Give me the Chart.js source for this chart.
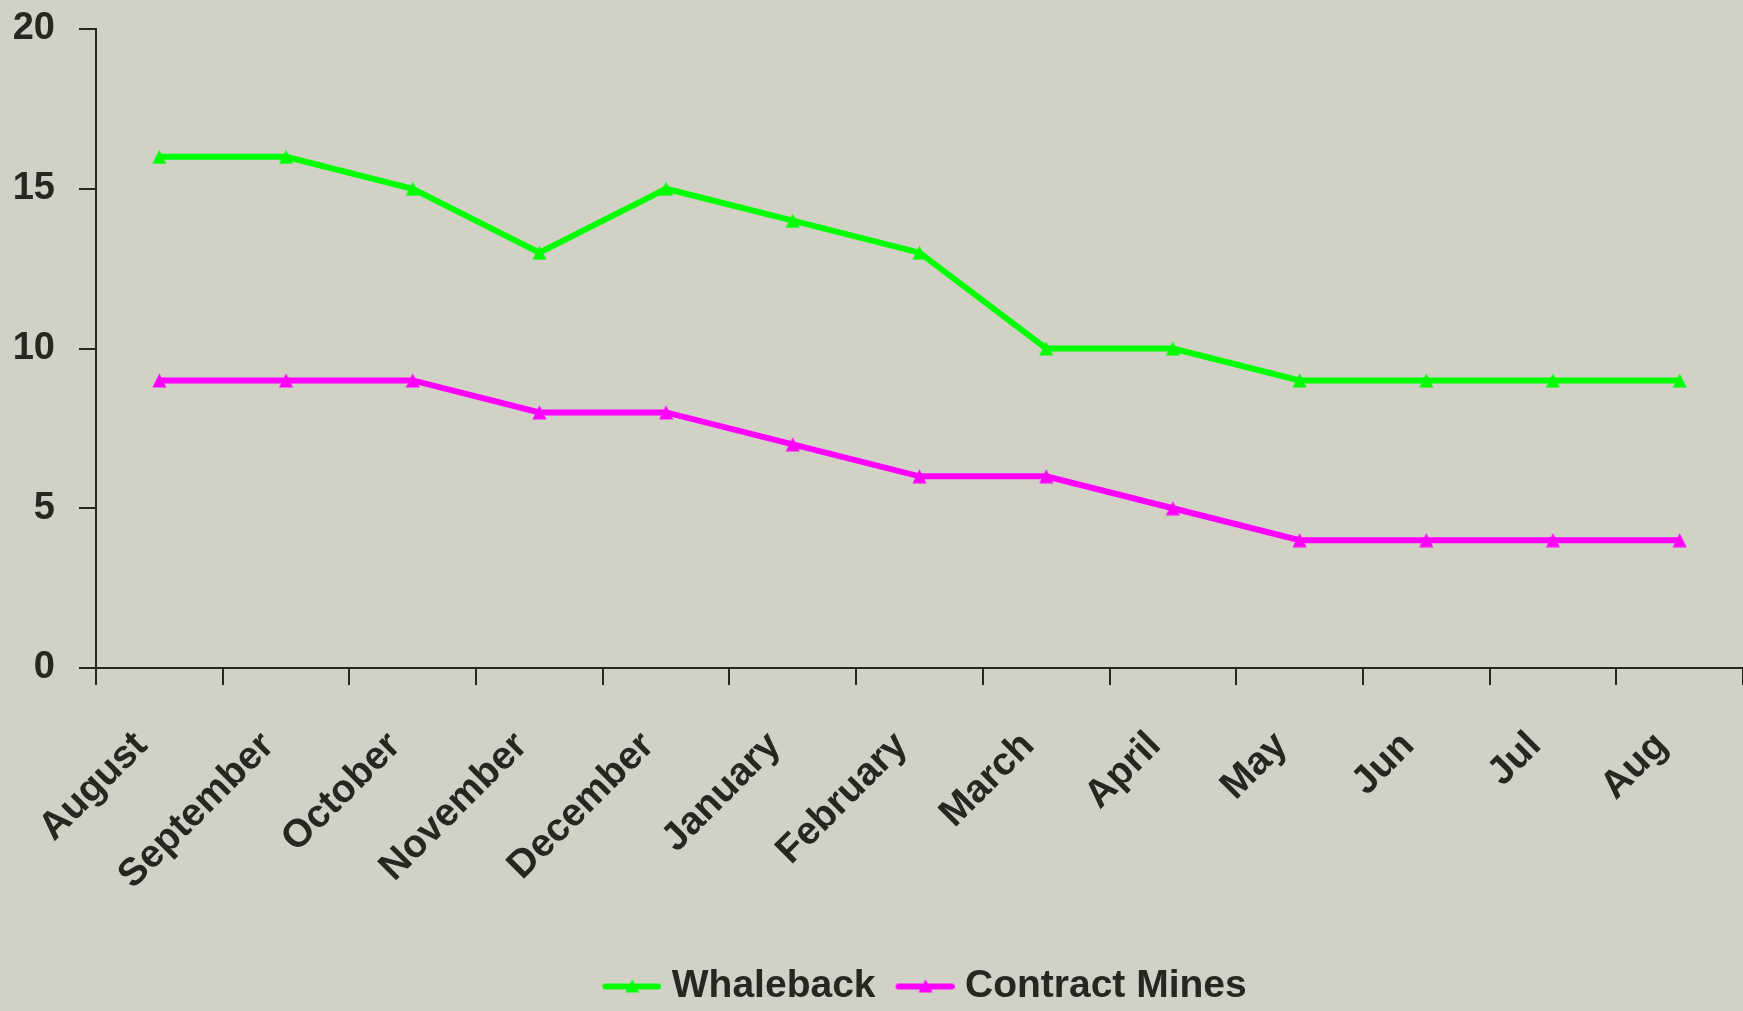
<!doctype html>
<html lang="en">
<head>
  <meta charset="utf-8">
  <title>Whaleback vs Contract Mines</title>
  <script src="https://cdn.jsdelivr.net/npm/chart.js"></script>
  <style>
    html, body { margin: 0; padding: 0; background: #d1d1c5; }
    #wrap { width: 1743px; height: 1011px; }
  </style>
</head>
<body>
  <div id="wrap">
    <canvas id="lineChart" width="1743" height="1011"></canvas>
  </div>
  <script>
    // data
    const months = ['August', 'September', 'October', 'November', 'December', 'January',
      'February', 'March', 'April', 'May', 'Jun', 'Jul', 'Aug'];
    const whaleback = [16, 16, 15, 13, 15, 14, 13, 10, 10, 9, 9, 9, 9];
    const contractMines = [9, 9, 9, 8, 8, 7, 6, 6, 5, 4, 4, 4, 4];
    const yTicks = [0, 5, 10, 15, 20];

    const inkColor = '#262820';
    const fontFamily = "'Liberation Sans', Arial, sans-serif";

    // triangle marker, box-centred like the excel one
    function triangleMark(color) {
      const c = document.createElement('canvas');
      c.width = 15;
      c.height = 15;
      const ctx = c.getContext('2d');
      ctx.fillStyle = color;
      ctx.beginPath();
      ctx.moveTo(7.5, 0.5);
      ctx.lineTo(14.5, 14.5);
      ctx.lineTo(0.5, 14.5);
      ctx.closePath();
      ctx.fill();
      return c;
    }

    // little line + triangle for the legend (blank on the left = gap to previous item)
    function legendMark(color) {
      const c = document.createElement('canvas');
      c.width = 78;
      c.height = 20;
      const ctx = c.getContext('2d');
      ctx.strokeStyle = color;
      ctx.lineWidth = 6;
      ctx.lineCap = 'round';
      ctx.beginPath();
      ctx.moveTo(22, 10);
      ctx.lineTo(75, 10);
      ctx.stroke();
      ctx.fillStyle = color;
      ctx.beginPath();
      ctx.moveTo(49, 3);
      ctx.lineTo(56, 16);
      ctx.lineTo(42, 16);
      ctx.closePath();
      ctx.fill();
      return c;
    }

    const data = {
      labels: months,
      datasets: [{
        label: 'Whaleback',
        data: whaleback,
        borderColor: '#00ff00',
        backgroundColor: '#00ff00',
        borderWidth: 6,
        pointStyle: triangleMark('#00ff00'),
        pointRadius: 8,
        pointBorderWidth: 0,
        tension: 0
      }, {
        label: 'Contract Mines',
        data: contractMines,
        borderColor: '#ff00ff',
        backgroundColor: '#ff00ff',
        borderWidth: 6,
        pointStyle: triangleMark('#ff00ff'),
        pointRadius: 8,
        pointBorderWidth: 0,
        tension: 0
      }]
    };

    const config = {
      type: 'line',
      data: data,
      options: {
        responsive: false,
        animation: false,
        layout: {
          autoPadding: false,
          padding: { top: 29, left: 0, right: 0, bottom: -5 }
        },
        scales: {
          x: {
            offset: true,
            grid: {
              offset: true,
              drawOnChartArea: false,
              drawTicks: true,
              tickLength: 17,
              color: inkColor,
              lineWidth: 2
            },
            border: { display: true, color: inkColor, width: 2 },
            ticks: {
              color: inkColor,
              font: { family: fontFamily, size: 39, weight: 'bold' },
              maxRotation: 45,
              minRotation: 45,
              padding: 38,
              labelOffset: -18,
              autoSkip: false
            },
            afterFit: function (scale) {
              scale.height = 289;
              scale.paddingLeft = 0;
              scale.paddingRight = 0;
            }
          },
          y: {
            min: 0,
            max: 20,
            afterBuildTicks: function (scale) {
              scale.ticks = yTicks.map(function (v) { return { value: v }; });
            },
            grid: {
              drawOnChartArea: false,
              drawTicks: true,
              tickLength: 17,
              color: inkColor,
              lineWidth: 2
            },
            border: { display: true, color: inkColor, width: 2 },
            ticks: {
              color: inkColor,
              font: { family: fontFamily, size: 38, weight: 'bold' },
              padding: 24
            },
            afterFit: function (scale) {
              scale.width = 96;
              scale.paddingTop = 0;
              scale.paddingBottom = 0;
            }
          }
        },
        plugins: {
          tooltip: { enabled: false },
          legend: {
            position: 'bottom',
            fullSize: false,
            labels: {
              color: inkColor,
              font: { family: fontFamily, size: 39, weight: 'bold' },
              usePointStyle: true,
              pointStyleWidth: 60,
              padding: 10,
              generateLabels: function (chart) {
                const items = Chart.defaults.plugins.legend.labels.generateLabels(chart);
                items.forEach(function (item, i) {
                  item.pointStyle = legendMark(chart.data.datasets[i].borderColor);
                });
                return items;
              }
            }
          }
        }
      }
    };

    const myChart = new Chart(document.getElementById('lineChart'), config);
  </script>
</body>
</html>
